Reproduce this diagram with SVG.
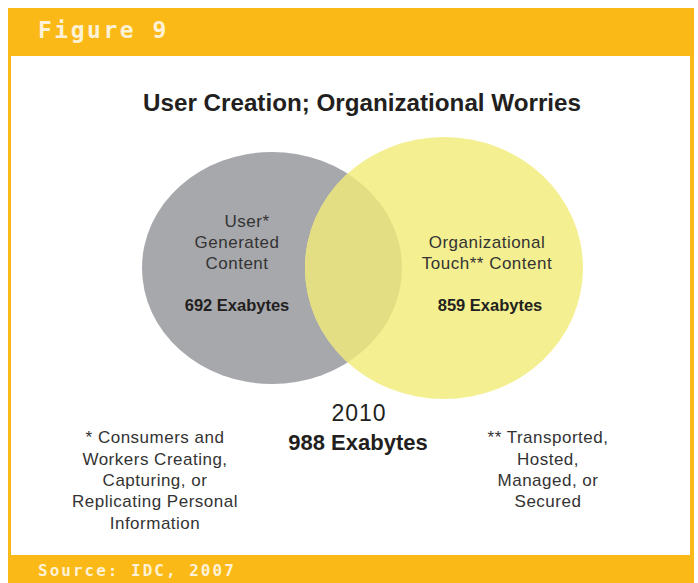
<svg xmlns="http://www.w3.org/2000/svg" width="698" height="583" viewBox="0 0 698 583">
<style>
.hdr{font-family:"DejaVu Sans Mono","Liberation Mono",monospace;font-weight:bold;fill:#fdf1d6}
.lbl{font-family:"Liberation Sans",Arial,sans-serif;font-size:17px;letter-spacing:0.5px;fill:#333;text-anchor:middle}
.num{font-family:"Liberation Sans",Arial,sans-serif;font-size:16.5px;font-weight:bold;fill:#231f20;text-anchor:middle}
</style>
<defs>
<clipPath id="cg"><ellipse cx="272" cy="268" rx="130" ry="116"/></clipPath>
</defs>
<rect x="0" y="0" width="698" height="583" fill="#ffffff"/>
<rect x="8" y="8" width="686" height="575" fill="#fbb917"/>
<rect x="11" y="56" width="679" height="499" fill="#ffffff"/>
<text class="hdr" x="38" y="38" font-size="23" letter-spacing="2.5">Figure 9</text>
<text class="hdr" x="38" y="576" font-size="16" letter-spacing="2">Source: IDC, 2007</text>
<text x="362" y="111" font-family="Liberation Sans,Arial,sans-serif" font-weight="bold" font-size="23" fill="#231f20" text-anchor="middle" textLength="438" lengthAdjust="spacingAndGlyphs">User Creation; Organizational Worries</text>
<g id="user">
<ellipse cx="272" cy="268" rx="130" ry="116" fill="#a7a8ac"/>
</g>
<g id="org">
<ellipse cx="444" cy="268" rx="139" ry="131" fill="#f4ef90"/>
</g>
<g id="overlap">
<ellipse cx="444" cy="268" rx="139" ry="131" fill="#e3de83" clip-path="url(#cg)"/>
</g>
<g id="labels">
<text class="lbl" x="247" y="227">User*</text>
<text class="lbl" x="237" y="248">Generated</text>
<text class="lbl" x="237" y="269">Content</text>
<text class="num" x="237" y="311">692 Exabytes</text>
<text class="lbl" x="487" y="248">Organizational</text>
<text class="lbl" x="487" y="269">Touch** Content</text>
<text class="num" x="490" y="311">859 Exabytes</text>
</g>
<g id="total">
<text x="359" y="421" font-family="Liberation Sans,Arial,sans-serif" font-size="23" letter-spacing="1" fill="#231f20" text-anchor="middle">2010</text>
<text x="358" y="450" font-family="Liberation Sans,Arial,sans-serif" font-size="22" font-weight="bold" fill="#231f20" text-anchor="middle">988 Exabytes</text>
</g>
<g id="note1">
<text class="lbl" x="155" y="443">* Consumers and</text>
<text class="lbl" x="155" y="465">Workers Creating,</text>
<text class="lbl" x="155" y="486">Capturing, or</text>
<text class="lbl" x="155" y="507">Replicating Personal</text>
<text class="lbl" x="155" y="529">Information</text>
</g>
<g id="note2">
<text class="lbl" x="548" y="443">** Transported,</text>
<text class="lbl" x="548" y="465">Hosted,</text>
<text class="lbl" x="548" y="486">Managed, or</text>
<text class="lbl" x="548" y="507">Secured</text>
</g>
<g id="connectors"></g>
</svg>
